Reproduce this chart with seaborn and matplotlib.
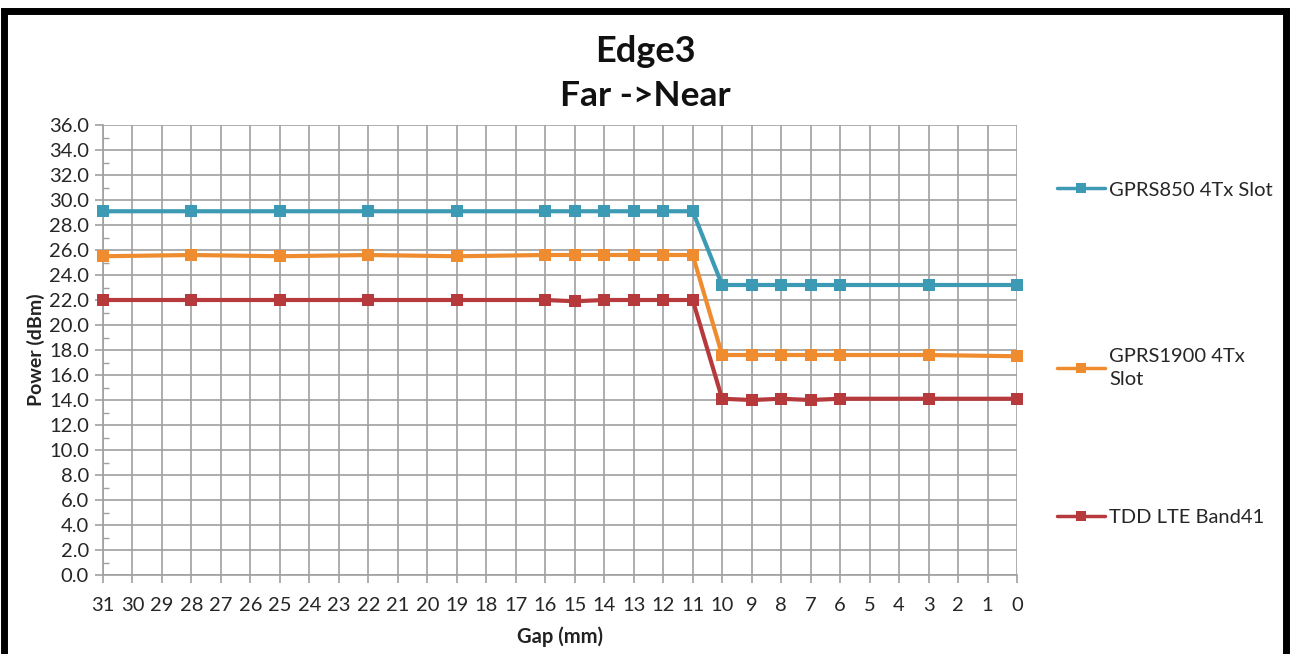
import matplotlib
matplotlib.use("Agg")
import matplotlib.pyplot as plt
import seaborn as sns
import pandas as pd
from matplotlib.patches import Rectangle
from matplotlib.ticker import MultipleLocator, FormatStrFormatter

gap = [31, 28, 25, 22, 19, 16, 15, 14, 13, 12, 11, 10, 9, 8, 7, 6, 3, 0]
gprs850 = [29.1, 29.1, 29.1, 29.1, 29.1, 29.1, 29.1, 29.1, 29.1, 29.1, 29.1,
           23.2, 23.2, 23.2, 23.2, 23.2, 23.2, 23.2]
gprs1900 = [25.5, 25.6, 25.5, 25.6, 25.5, 25.6, 25.6, 25.6, 25.6, 25.6, 25.6,
            17.6, 17.6, 17.6, 17.6, 17.6, 17.6, 17.5]
tdd_lte = [22.0, 22.0, 22.0, 22.0, 22.0, 22.0, 21.9, 22.0, 22.0, 22.0, 22.0,
           14.1, 14.0, 14.1, 14.0, 14.1, 14.1, 14.1]
series_names = ["GPRS850 4Tx Slot", "GPRS1900 4Tx\nSlot", "TDD LTE Band41"]
colors = ["#3C9AB4", "#EE8C2F", "#B6393C"]
x_ticks = list(range(31, -1, -1))

sns.set_theme(style="white")
plt.rcParams['font.family'] = ['Lato', 'DejaVu Sans']

fig = plt.figure(figsize=(12.9, 6.54), dpi=100)
ax = fig.add_axes([103/1290, 1-575/654, (1017-103)/1290, (575-125)/654])

for vals, name, col in zip([gprs850, gprs1900, tdd_lte], series_names, colors):
    df = pd.DataFrame({"gap": gap, "power": vals})
    sns.lineplot(data=df, x="gap", y="power", ax=ax, color=col, linewidth=3,
                 marker="s", markersize=9, markeredgewidth=0, label=name,
                 clip_on=False, zorder=3, legend=False)

ax.set_xlim(31, 0)
ax.set_ylim(0, 36)
ax.set_xticks(x_ticks)
ax.set_xticklabels([str(v) for v in x_ticks])
ax.yaxis.set_major_locator(MultipleLocator(2))
ax.yaxis.set_minor_locator(MultipleLocator(1))
ax.yaxis.set_major_formatter(FormatStrFormatter("%.1f"))
ax.grid(True, which="major", axis="both", color="#A0A0A0", linewidth=1.2)
for s in ["top", "right"]:
    ax.spines[s].set_visible(False)
for s in ["left", "bottom"]:
    ax.spines[s].set_color("#A0A0A0")
    ax.spines[s].set_linewidth(1.2)
ax.tick_params(axis="x", which="major", direction="out", length=6, width=1.2,
               color="#A0A0A0", labelsize=14.5, labelcolor="#262626", pad=10, bottom=True)
ax.tick_params(axis="y", which="major", direction="out", length=6, width=1.2,
               color="#A0A0A0", labelsize=14.5, labelcolor="#262626", pad=4, left=True)
ax.tick_params(axis="y", which="minor", direction="in", length=4, width=1.0,
               color="#A0A0A0", left=True)

ax.set_xlabel("Gap (mm)", fontsize=14.5, fontweight="bold", labelpad=9, color="#222222")
ax.set_ylabel("Power (dBm)", fontsize=14, fontweight="bold", labelpad=3, color="#222222")

fig.text(0.5, 1-52/654, "Edge3", ha="center", va="center", fontsize=26, fontweight="bold", color="#111111")
fig.text(0.5, 1-96/654, "Far ->Near", ha="center", va="center", fontsize=25.5, fontweight="bold", color="#111111")

# legend: one entry per block, placed like the reference
lines = ax.get_lines()
legend_y = [190, 368, 517]
for i, (ln, name, yc) in enumerate(zip(lines, series_names, legend_y)):
    leg = ax.legend([ln], [name], loc="center left",
                    bbox_to_anchor=(1057/1290, 1-yc/654),
                    bbox_transform=fig.transFigure, frameon=False, fontsize=14.5,
                    handlelength=2.4, handletextpad=0.2, borderpad=0,
                    borderaxespad=0)
    for t in leg.get_texts():
        t.set_linespacing(1.45)
        t.set_color("#262626")
    for h in leg.legend_handles:
        h.set_linewidth(2.5)
        h.set_markersize(7)
    if i < len(lines) - 1:
        ax.add_artist(leg)

fig.patches.append(Rectangle((4/1290, -0.05), 1282/1290, 1.05 - 11/654,
                             transform=fig.transFigure, fill=False,
                             edgecolor="black", linewidth=5))

fig.savefig("out.png", dpi=100)
